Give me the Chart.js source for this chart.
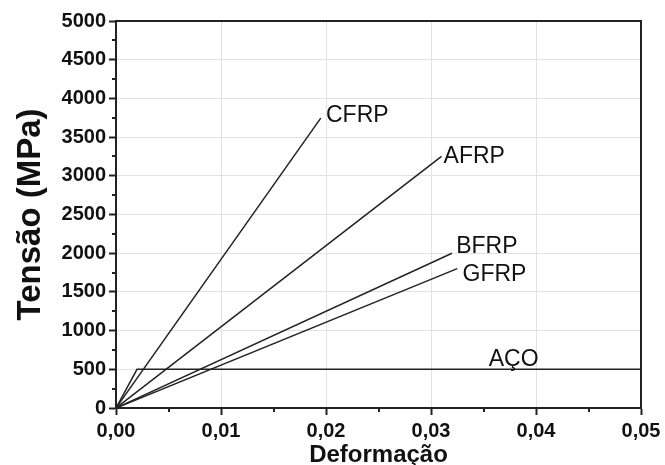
<!DOCTYPE html>
<html>
<head>
<meta charset="utf-8">
<script src="https://cdn.jsdelivr.net/npm/chart.js@4/dist/chart.umd.min.js"></script>
<style>
  html, body { margin: 0; padding: 0; background: #fff; }
  #wrap { width: 665px; height: 465px; }
</style>
</head>
<body>
<div id="wrap"><canvas id="chart" width="665" height="465"></canvas></div>
<script>
// strain / stress
const seriesNames = ["CFRP", "AFRP", "BFRP", "GFRP", "AÇO"];
const cfrpStrain = [0, 0.0195];
const cfrpStress = [0, 3745];
const afrpStrain = [0, 0.031];
const afrpStress = [0, 3250];
const bfrpStrain = [0, 0.032];
const bfrpStress = [0, 2000];
const gfrpStrain = [0, 0.0325];
const gfrpStress = [0, 1800];
const acoStrain = [0, 0.002, 0.05];
const acoStress = [0, 500, 500];

// where each name sits (data units, text baseline)
const labelStrain = [0.0200, 0.0312, 0.0324, 0.0330, 0.0355];
const labelStress = [3700, 3170, 2000, 1635, 537];

const xMajorTicks = [0, 0.01, 0.02, 0.03, 0.04, 0.05];
const xMinorTicks = [0.005, 0.015, 0.025, 0.035, 0.045];
const yMinorTicks = [250, 750, 1250, 1750, 2250, 2750, 3250, 3750, 4250, 4750];

const ink = "#222";
const gridGray = "#e2e2e2";
const fontFamily = "'Liberation Sans', Arial, sans-serif";

function toPoints(xs, ys) {
  return xs.map((x, i) => ({ x: x, y: ys[i] }));
}

const allStrain = [cfrpStrain, afrpStrain, bfrpStrain, gfrpStrain, acoStrain];
const allStress = [cfrpStress, afrpStress, bfrpStress, gfrpStress, acoStress];

const datasets = seriesNames.map((name, i) => ({
  label: name,
  data: toPoints(allStrain[i], allStress[i]),
  borderColor: ink,
  borderWidth: 1.5,
  pointRadius: 0,
  fill: false,
  tension: 0,
}));

const decorPlugin = {
  id: "decor",
  afterDraw(chart) {
    const { ctx, chartArea, scales } = chart;
    const xs = scales.x;
    const ys = scales.y;
    ctx.save();
    // frame: top and right sides
    ctx.strokeStyle = ink;
    ctx.lineWidth = 2;
    ctx.beginPath();
    ctx.moveTo(chartArea.left, chartArea.top);
    ctx.lineTo(chartArea.right, chartArea.top);
    ctx.lineTo(chartArea.right, chartArea.bottom);
    ctx.stroke();
    // minor ticks
    ctx.beginPath();
    xMinorTicks.forEach((v) => {
      const px = Math.round(xs.getPixelForValue(v));
      ctx.moveTo(px, chartArea.bottom);
      ctx.lineTo(px, chartArea.bottom + 4);
    });
    yMinorTicks.forEach((v) => {
      const py = Math.round(ys.getPixelForValue(v));
      ctx.moveTo(chartArea.left, py);
      ctx.lineTo(chartArea.left - 4, py);
    });
    ctx.stroke();
    // series names
    ctx.fillStyle = "#111";
    ctx.font = "23px " + fontFamily;
    ctx.textAlign = "left";
    ctx.textBaseline = "alphabetic";
    seriesNames.forEach((name, i) => {
      ctx.fillText(name, xs.getPixelForValue(labelStrain[i]), ys.getPixelForValue(labelStress[i]));
    });
    ctx.restore();
  },
};

new Chart(document.getElementById("chart"), {
  type: "line",
  data: { datasets: datasets },
  plugins: [decorPlugin],
  options: {
    responsive: false,
    animation: false,
    layout: { padding: { top: 21, right: 24, left: 0, bottom: 0 } },
    plugins: { legend: { display: false }, tooltip: { enabled: false } },
    scales: {
      x: {
        type: "linear",
        min: 0,
        max: 0.05,
        afterBuildTicks: (scale) => {
          scale.ticks = xMajorTicks.map((v) => ({ value: v }));
        },
        afterFit: (scale) => {
          scale.height = 57;
        },
        ticks: {
          color: "#111",
          padding: 4,
          maxRotation: 0,
          font: { family: fontFamily, size: 20, weight: "bold" },
          callback: (v) => Number(v).toFixed(2).replace(".", ","),
        },
        grid: { color: gridGray, lineWidth: 1, tickColor: ink, tickLength: 7, tickWidth: 2 },
        border: { color: ink, width: 2 },
        title: {
          display: true,
          text: "Deformação",
          color: "#111",
          padding: { top: 0, bottom: 0 },
          font: { family: fontFamily, size: 24, weight: "bold", lineHeight: 0.8 },
        },
      },
      y: {
        type: "linear",
        min: 0,
        max: 5000,
        ticks: {
          stepSize: 500,
          color: "#111",
          padding: 3,
          font: { family: fontFamily, size: 20, weight: "bold" },
          callback: (v) => String(v),
        },
        afterFit: (scale) => {
          scale.width = 116;
        },
        grid: { color: gridGray, lineWidth: 1, tickColor: ink, tickLength: 7, tickWidth: 2 },
        border: { color: ink, width: 2 },
        title: {
          display: true,
          text: "Tensão (MPa)",
          color: "#111",
          padding: { top: 11, bottom: 0 },
          font: { family: fontFamily, size: 33, weight: "bold" },
        },
      },
    },
  },
});
</script>
</body>
</html>
